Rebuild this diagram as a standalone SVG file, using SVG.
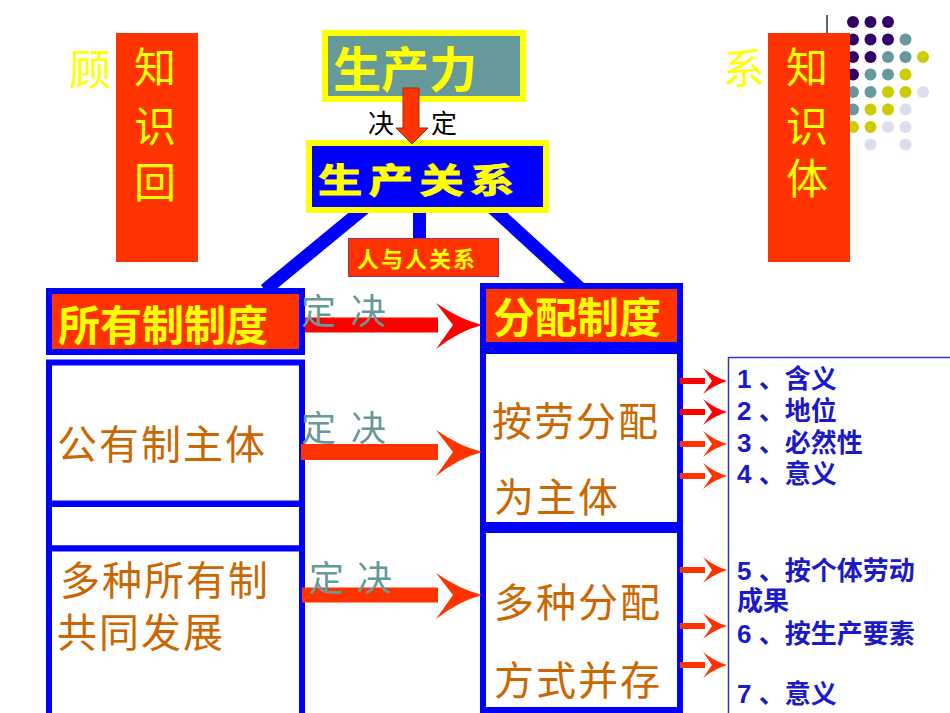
<svg xmlns="http://www.w3.org/2000/svg" xmlns:xlink="http://www.w3.org/1999/xlink" width="950" height="713" viewBox="0 0 950 713">
  <style>
    .cjk { font-family: "Noto Sans CJK SC", sans-serif; }
    .title { font-family: "Noto Sans CJK SC", sans-serif; font-weight: bold; fill: #FFFF00; }
    .side { font-family: "Noto Sans CJK SC", sans-serif; font-size: 42px; fill: #FFFF00; text-anchor: middle; }
    .item { font-family: "Noto Sans CJK SC", sans-serif; font-size: 40px; fill: #CC6600; letter-spacing: 2px; }
    .decide { font-family: "Noto Sans CJK SC", sans-serif; font-size: 35px; fill: #669999; }
    .list { font-family: "Liberation Sans", "Noto Sans CJK SC", sans-serif; font-size: 26px; font-weight: bold; fill: #1A1AC8; }
    .frame { fill: #FFFFFF; stroke: #0000FF; stroke-width: 6; }
    .head { fill: #FF3300; stroke: #0000FF; stroke-width: 6; }
    .link { stroke: #0000FF; stroke-width: 13; fill: none; }
    .P { fill: #330066; } .T { fill: #669999; } .Y { fill: #CCCC00; } .L { fill: #DDDDEE; }
  </style>
  <defs>
    <!-- long notched arrow, centred on y=0 -->
    <path id="bigHead" d="M436,-22 Q459,-6 482,0 Q459,6 436,24 L453,0 Z"/>
    <!-- short notched arrow for the list items -->
    <path id="smallArrow" d="M680,-3 L705,-3 L705,3 L680,3 Z M703,-13 Q714,-4 727,0 Q714,4 703,13 L712,0 Z"/>
  </defs>

  <rect width="950" height="713" fill="#FFFFFF"/>

  <!-- decorative dot grid, top right -->
  <g id="dots">
    <line x1="827" y1="15" x2="827" y2="34" stroke="#333333" stroke-width="1.5"/>
    <circle class="P" cx="853" cy="22" r="6"/><circle class="P" cx="870.5" cy="22" r="6"/><circle class="P" cx="888" cy="22" r="6"/>
    <circle class="P" cx="853" cy="39.5" r="6"/><circle class="P" cx="870.5" cy="39.5" r="6"/><circle class="P" cx="888" cy="39.5" r="6"/><circle class="T" cx="905.5" cy="39.5" r="6"/>
    <circle class="P" cx="853" cy="57" r="6"/><circle class="P" cx="870.5" cy="57" r="6"/><circle class="T" cx="888" cy="57" r="6"/><circle class="T" cx="905.5" cy="57" r="6"/><circle class="Y" cx="923" cy="57" r="6"/>
    <circle class="P" cx="853" cy="74.5" r="6"/><circle class="T" cx="870.5" cy="74.5" r="6"/><circle class="T" cx="888" cy="74.5" r="6"/><circle class="Y" cx="905.5" cy="74.5" r="6"/>
    <circle class="T" cx="853" cy="92" r="6"/><circle class="T" cx="870.5" cy="92" r="6"/><circle class="Y" cx="888" cy="92" r="6"/><circle class="Y" cx="905.5" cy="92" r="6"/><circle class="L" cx="923" cy="92" r="6"/>
    <circle class="T" cx="853" cy="109.5" r="6"/><circle class="Y" cx="870.5" cy="109.5" r="6"/><circle class="Y" cx="888" cy="109.5" r="6"/><circle class="L" cx="905.5" cy="109.5" r="6"/>
    <circle class="Y" cx="853" cy="127" r="6"/><circle class="Y" cx="870.5" cy="127" r="6"/><circle class="L" cx="888" cy="127" r="6"/><circle class="L" cx="905.5" cy="127" r="6"/>
    <circle class="L" cx="870.5" cy="144.5" r="6"/><circle class="L" cx="905.5" cy="144.5" r="6"/>
  </g>

  <!-- side banners -->
  <g id="review">
    <text class="side" x="90" y="85">顾</text>
    <rect x="116" y="33" width="82" height="229" fill="#FF3300"/>
    <text class="side" x="155" y="83">知</text>
    <text class="side" x="155" y="142">识</text>
    <text class="side" x="155" y="198">回</text>
  </g>
  <g id="system">
    <text class="side" x="744" y="84" font-size="40">系</text>
    <rect x="768" y="33" width="82" height="229" fill="#FF3300"/>
    <text class="side" x="807" y="83">知</text>
    <text class="side" x="807" y="142">识</text>
    <text class="side" x="807" y="194">体</text>
  </g>

  <!-- connectors -->
  <g id="connectors">
    <line class="link" x1="384" y1="192" x2="265" y2="290"/>
    <line class="link" x1="475" y1="192" x2="582" y2="290"/>
    <line class="link" x1="419.5" y1="200" x2="419.5" y2="239"/>
  </g>

  <g id="productivity">
    <rect x="325" y="33" width="198" height="66" fill="#669999" stroke="#FFFF00" stroke-width="6"/>
    <text class="title" x="333" y="87" font-size="48" font-weight="500">生产力</text>
  </g>

  <g id="relations">
    <rect x="309" y="143" width="237" height="67" fill="#0000FF" stroke="#FFFF00" stroke-width="6"/>
    <text class="title" font-size="34" font-weight="900" letter-spacing="5" stroke="#FFFF00" stroke-width="1" transform="translate(318,193) scale(1.3,1)">生产关系</text>
  </g>

  <g id="people">
    <rect x="348.5" y="238.5" width="150" height="38" fill="#FF3300" stroke="#993366" stroke-width="1"/>
    <text class="cjk" x="357" y="267" font-size="22" font-weight="bold" fill="#FFFF00" letter-spacing="2">人与人关系</text>
  </g>

  <!-- ownership column -->
  <g id="ownership">
    <rect class="head" x="49" y="291" width="253" height="61"/>
    <text class="title" x="58" y="341" font-size="42">所有制制度</text>
  </g>
  <g id="public">
    <rect class="frame" x="49" y="362.5" width="253" height="141"/>
    <text class="item" x="57" y="459">公有制主体</text>
  </g>
  <g id="gap">
    <rect class="frame" x="49" y="504" width="253" height="44.5"/>
  </g>
  <g id="mixed">
    <rect class="frame" x="49" y="548.5" width="253" height="190"/>
    <text class="item" x="60" y="595">多种所有制</text>
    <text class="item" x="57" y="647">共同发展</text>
  </g>

  <!-- distribution column -->
  <g id="distribution">
    <rect class="head" x="483" y="286" width="197" height="59"/>
    <text class="title" x="493" y="333" font-size="42">分配制度</text>
  </g>
  <g id="labour">
    <rect class="frame" x="483" y="351" width="197" height="174"/>
    <text class="item" x="492" y="436">按劳分配</text>
    <text class="item" x="494" y="512">为主体</text>
  </g>
  <g id="modes">
    <rect class="frame" x="483" y="530" width="197" height="180"/>
    <text class="item" x="494" y="617">多种分配</text>
    <text class="item" x="494" y="695">方式并存</text>
  </g>

  <!-- arrows -->
  <g id="arrows">
    <!-- production forces determine relations -->
    <path d="M403,88 L419,88 L419,128 L428,128 L412,144 L396,128 L403,128 Z" fill="#FF3300" stroke="#993300" stroke-width="1"/>
    <text class="cjk" x="368" y="133" font-size="26" fill="#000000">决</text>
    <text class="cjk" x="431" y="133" font-size="26" fill="#000000">定</text>

    <g fill="#FF0000" transform="translate(0,325)">
      <rect x="305" y="-7.5" width="133" height="15"/>
      <use xlink:href="#bigHead"/>
    </g>
    <g fill="#FF3300" transform="translate(0,452)">
      <rect x="301" y="-8" width="137" height="16"/>
      <use xlink:href="#bigHead"/>
    </g>
    <g fill="#FF3300" transform="translate(0,595)">
      <rect x="302" y="-7.5" width="136" height="15"/>
      <use xlink:href="#bigHead"/>
    </g>
    <text class="decide" x="301" y="324">定<tspan x="351">决</tspan></text>
    <text class="decide" x="301" y="441">定<tspan x="351">决</tspan></text>
    <text class="decide" x="309" y="591">定<tspan x="357">决</tspan></text>

    <use xlink:href="#smallArrow" fill="#FF0000" transform="translate(0,381)"/>
    <use xlink:href="#smallArrow" fill="#FF0000" transform="translate(0,412)"/>
    <use xlink:href="#smallArrow" fill="#FF3300" transform="translate(0,444)"/>
    <use xlink:href="#smallArrow" fill="#FF3300" transform="translate(0,476)"/>
    <use xlink:href="#smallArrow" fill="#FF3300" transform="translate(0,570)"/>
    <use xlink:href="#smallArrow" fill="#FF3300" transform="translate(0,626)"/>
    <use xlink:href="#smallArrow" fill="#FF3300" transform="translate(0,665)"/>
  </g>

  <!-- key points list -->
  <g id="points">
    <rect x="728.5" y="357.5" width="230" height="380" fill="none" stroke="#3333CC" stroke-width="1.5"/>
    <text class="list" x="737" y="388">1 、含义</text>
    <text class="list" x="737" y="420">2 、地位</text>
    <text class="list" x="737" y="452">3 、必然性</text>
    <text class="list" x="737" y="483">4 、意义</text>
    <text class="list" x="737" y="580">5 、按个体劳动</text>
    <text class="list" x="737" y="610">成果</text>
    <text class="list" x="737" y="643">6 、按生产要素</text>
    <text class="list" x="737" y="703">7 、意义</text>
  </g>
</svg>
